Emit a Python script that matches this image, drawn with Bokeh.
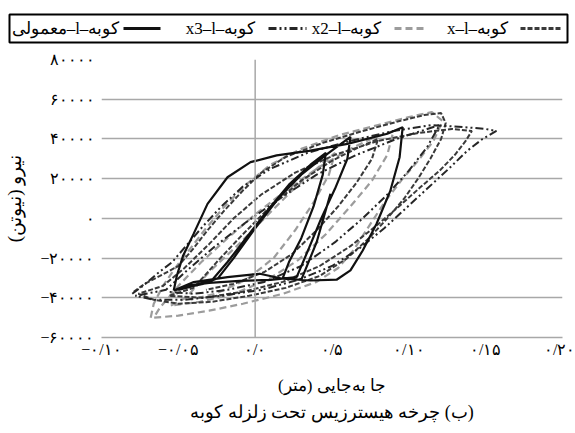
from bokeh.plotting import figure
from bokeh.models import Range1d, FixedTicker, Span, Title
from bokeh.layouts import column
from bokeh.embed import file_html
from bokeh.resources import INLINE
from bokeh.core.properties import value

LRM = "\u200e"
LRE = "\u202a"
RLE = "\u202b"
PDF = "\u202c"


def rtl(s):
    return RLE + s + PDF


def ltr(s):
    return LRM + LRE + s + PDF


# ---------------- data ----------------
series_names = ["x–l–کوبه", "x2–l–کوبه", "x3–l–کوبه", "معمولی–l–کوبه"]

x_ticks = [-0.10, -0.05, 0.0, 0.05, 0.10, 0.15, 0.20]
x_tick_labels = ["−۰/۱۰", "−۰/۰۵", "۰/۰", "۰/۵", "۰/۱۰", "۰/۱۵", "۰/۲۰"]
y_ticks = [-60000, -40000, -20000, 0, 20000, 40000, 60000, 80000]
y_tick_labels = ["−۶۰۰۰۰", "−۴۰۰۰۰", "−۲۰۰۰۰", "۰", "۲۰۰۰۰", "۴۰۰۰۰", "۶۰۰۰۰", "۸۰۰۰۰"]

x_label = rtl("جا به‌جایی (متر)")
y_label = rtl("نیرو (نیوتن)")
caption = rtl("(ب) چرخه هیسترزیس تحت زلزله کوبه")

# series "x" (displacement m, force N)
s1_disp = [-0.079, -0.072, -0.062, -0.050, -0.040, -0.031, -0.020, -0.008, 0.004, 0.020, 0.044, 0.070, 0.094, 0.110, 0.121,
           0.124, 0.121, 0.114, 0.106, 0.097, 0.086, 0.074, 0.060, 0.042, 0.020, -0.004, -0.028, -0.050, -0.066, -0.076,
           -0.060, -0.046, -0.030, -0.014, 0.004, 0.026, 0.052, 0.080, 0.106, 0.128, 0.141, 0.137, 0.130, 0.120, 0.108,
           0.095, 0.080, 0.062, 0.042, 0.018, -0.008, -0.034, -0.056,
           -0.040, -0.025, -0.008, 0.010, 0.030, 0.050, 0.068, 0.080, 0.076, 0.066, 0.054, 0.040, 0.024, 0.006, -0.014, -0.032]
s1_force = [-37000, -33000, -29000, -24000, -15000, -6000, 4000, 14000, 23000, 31000, 38000, 44000, 49000, 52000, 53000,
            48000, 40000, 30000, 20000, 10000, 0, -10000, -20000, -29000, -35000, -39000, -42000, -43000, -41000, -38000,
            -34000, -25000, -13000, 0, 12000, 23000, 32000, 39000, 43000, 45000, 44000, 39000, 32000, 24000, 16000,
            7000, -3000, -14000, -24000, -32000, -37000, -40000, -39000,
            -35000, -22000, -8000, 6000, 19000, 29000, 36000, 40000, 30000, 18000, 6000, -6000, -18000, -27000, -33000, -36000]

# series "x2"
s2_disp = [-0.068, -0.066, -0.060, -0.052, -0.042, -0.032, -0.020, -0.006, 0.010, 0.030, 0.055, 0.080, 0.100, 0.115,
           0.122, 0.116, 0.106, 0.096, 0.085, 0.074, 0.064, 0.054, 0.040, 0.018, -0.008, -0.030, -0.050, -0.066,
           -0.062, -0.050, -0.035, -0.018, 0.000, 0.020, 0.042, 0.062, 0.078, 0.090, 0.086, 0.076, 0.062, 0.046, 0.028,
           0.008, -0.014, -0.036, -0.055,
           -0.045, -0.030, -0.012, 0.006, 0.024, 0.040, 0.052, 0.048, 0.038, 0.026, 0.012, -0.006, -0.026, -0.042]
s2_force = [-50000, -43000, -34000, -25000, -15000, -5000, 6000, 17000, 27000, 35000, 42000, 47000, 51000, 53500,
            49000, 39000, 29000, 20000, 9000, -4000, -16000, -25000, -32000, -38000, -43000, -46500, -49000, -50000,
            -45000, -34000, -22000, -10000, 2000, 14000, 26000, 35000, 41000, 44000, 32000, 19000, 6000, -8000, -21000,
            -31000, -38000, -42000, -44000,
            -40000, -27000, -14000, 0, 14000, 25000, 33000, 22000, 8000, -6000, -20000, -31000, -38000, -41000]

# series "x3"
s3_disp = [-0.080, -0.073, -0.064, -0.054, -0.044, -0.034, -0.022, -0.008, 0.010, 0.034, 0.062, 0.090, 0.115, 0.135,
           0.150, 0.157, 0.148, 0.138, 0.126, 0.112, 0.098, 0.084, 0.068, 0.050, 0.028, 0.004, -0.022, -0.046, -0.066,
           -0.078,
           -0.058, -0.044, -0.026, -0.006, 0.016, 0.040, 0.066, 0.092, 0.112, 0.120, 0.112, 0.100, 0.086, 0.070, 0.052,
           0.030, 0.006, -0.018, -0.040, -0.056]
s3_force = [-38000, -34000, -28000, -22000, -13000, -4000, 6000, 16000, 25000, 33000, 39000, 44000, 47000, 46000,
            45000, 44000, 40000, 34000, 25000, 15000, 5000, -5000, -15000, -24000, -31000, -36000, -39000, -41000, -41000,
            -39000,
            -36000, -26000, -14000, -2000, 10000, 22000, 32000, 40000, 45000, 47000, 36000, 24000, 12000, 0, -12000,
            -24000, -32000, -36000, -38000, -37000]

# series "معمولی"
s4_disp = [-0.053, -0.051, -0.047, -0.040, -0.031, -0.018, -0.003, 0.014, 0.035, 0.060, 0.086, 0.096, 0.094, 0.088, 0.079,
           0.070, 0.062, 0.053, 0.036, 0.018, 0.003, -0.018, -0.040, -0.053,
           -0.046, -0.034, -0.024, -0.014, 0.000, 0.015, 0.030, 0.047, 0.062, 0.060, 0.052, 0.043, 0.035, 0.027, 0.010,
           -0.010, -0.030, -0.045,
           -0.050, -0.040, -0.028, -0.018, -0.006, 0.008, 0.022, 0.036, 0.046, 0.044, 0.038, 0.030, 0.022, 0.018, 0.030,
           0.040, 0.049]
s4_force = [-36300, -29000, -19000, -7700, 7300, 20700, 28300, 31700, 34000, 37500, 42600, 45900, 30800, 14000, -2700,
            -16200, -26200, -30900, -31300, -30400, -27900, -29600, -32100, -36300,
            -35000, -33000, -30000, -20000, -5000, 10000, 22000, 32500, 41000, 30000, 15000, 0, -15000, -29600, -31000,
            -31500, -32500, -34000,
            -36000, -34000, -31000, -22000, -10000, 4000, 17000, 27000, 33000, 22000, 6000, -10000, -22000, -30000, -31000,
            -12000, 12400]

# ---------------- styles ----------------
FONT = "Liberation Serif"
styles = [
    dict(line_color="#3a3a3a", line_dash="5 2"),
    dict(line_color="#9c9c9c", line_dash="7 4"),
    dict(line_color="#262626", line_dash="8 3 2 3 2 3"),
    dict(line_color="#111111", line_dash="solid"),
]
chart_widths = [2, 2.2, 2, 2.2]
data = [(s1_disp, s1_force), (s2_disp, s2_force), (s3_disp, s3_force), (s4_disp, s4_force)]

# ---------------- legend strip ----------------
leg = figure(width=575, height=46, x_range=Range1d(9, 567), y_range=Range1d(0, 1),
             output_backend="svg", toolbar_location=None, x_axis_type=None, y_axis_type=None,
             min_border_left=9, min_border_right=8, min_border_top=14, min_border_bottom=4)
leg.grid.visible = False
leg.outline_line_color = "black"
leg.outline_line_width = 2

# entries left to right: معمولی, x3, x2, x  (label, then its line sample)
order = [3, 2, 1, 0]
label_cx = [65, 220, 346, 477]
sample_x0 = [123, 268, 394, 520]
sample_x1 = [160, 306, 426, 562]
for k, i in enumerate(order):
    leg.line(x=[sample_x0[k], sample_x1[k]], y=[0.5, 0.5], line_width=3, **styles[i])
leg.text(x=label_cx, y=[0.5] * 4, text=[ltr(series_names[i]) for i in order],
         text_align="center", text_baseline="middle", text_font=value(FONT), text_font_size="17px",
         text_color="black")

# ---------------- main chart ----------------
p = figure(width=575, height=387, x_range=Range1d(-0.10, 0.20), y_range=Range1d(-60000, 80000),
           output_backend="svg", toolbar_location=None,
           min_border_left=101, min_border_right=13, min_border_top=13, min_border_bottom=96)
p.outline_line_color = None
p.background_fill_color = "white"

for fig in (leg, p):
    try:
        fig.frame_align = False
    except Exception:
        pass

for i in [1, 0, 2, 3]:
    xs, ys = data[i]
    p.line(xs, ys, line_width=chart_widths[i], **styles[i])

p.add_layout(Span(location=0, dimension="height", line_color="#a8a8a8", line_width=1.5))

p.xgrid.visible = False
p.ygrid.ticker = FixedTicker(ticks=y_ticks)
p.ygrid.grid_line_color = "#a8a8a8"
p.ygrid.grid_line_width = 1.5

p.xaxis.ticker = FixedTicker(ticks=x_ticks)
p.xaxis.major_label_overrides = {t: l for t, l in zip(x_ticks, x_tick_labels)}
p.yaxis.ticker = FixedTicker(ticks=y_ticks)
p.yaxis.major_label_overrides = {t: l for t, l in zip(y_ticks, y_tick_labels)}

for ax in (p.xaxis, p.yaxis):
    ax.major_tick_line_color = None
    ax.minor_tick_line_color = None
    ax.major_label_text_font = FONT
    ax.major_label_text_font_size = "16px"
    ax.major_label_text_color = "black"
    ax.axis_label_text_font = FONT
    ax.axis_label_text_font_style = "normal"
    ax.axis_label_text_color = "black"

p.xaxis.axis_label_text_font_size = "17px"
p.yaxis.axis_label_text_font_size = "19px"

p.xaxis.axis_line_color = "#a8a8a8"
p.xaxis.axis_line_width = 1.5
p.xaxis.major_label_standoff = -3
p.xaxis.axis_label_standoff = 15
p.xaxis.axis_label = x_label

p.yaxis.axis_line_color = None
p.yaxis.major_label_standoff = 1
p.yaxis.axis_label_standoff = 12
p.yaxis.axis_label = y_label

p.add_layout(Title(text=caption, align="center", text_font=FONT, text_font_size="18px",
                   text_font_style="normal", text_color="black", standoff=4), "below")

layout = column(leg, p, spacing=0)
open("out.html", "w").write(file_html(layout, INLINE))
